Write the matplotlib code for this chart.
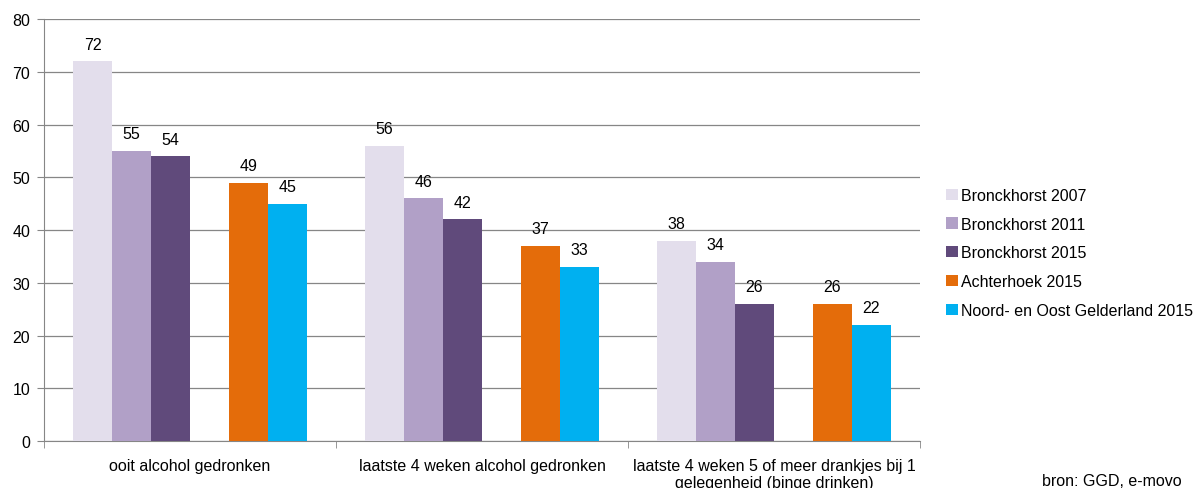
import numpy as np
import matplotlib
matplotlib.use('Agg')
import matplotlib.pyplot as plt

plt.rcParams['font.family'] = ['Liberation Sans', 'DejaVu Sans']

categories = ['ooit alcohol gedronken',
              'laatste 4 weken alcohol gedronken',
              'laatste 4 weken 5 of meer drankjes bij 1\ngelegenheid (binge drinken)']
series_names = ['Bronckhorst 2007', 'Bronckhorst 2011', 'Bronckhorst 2015',
                'Achterhoek 2015', 'Noord- en Oost Gelderland 2015']
bronck_2007 = [72, 56, 38]
bronck_2011 = [55, 46, 34]
bronck_2015 = [54, 42, 26]
achterhoek_2015 = [49, 37, 26]
nog_2015 = [45, 33, 22]
colors = ['#E3DEEC', '#B1A0C7', '#604A7B', '#E46C0A', '#00B0F0']

values = [bronck_2007, bronck_2011, bronck_2015, achterhoek_2015, nog_2015]
slots = [0, 1, 2, 4, 5]  # empty slot between the Bronckhorst bars and the regions
w = 1 / 7.5
fs = 11.5

fig = plt.figure(figsize=(11.99, 4.89), dpi=100)
ax = fig.add_axes([0.0367, 0.0961, 0.7306, 0.863])

x = np.arange(len(categories))
for vals, name, col, s in zip(values, series_names, colors, slots):
    bars = ax.bar(x + (s - 2.5) * w, vals, width=w, color=col, label=name, zorder=3)
    for b, v in zip(bars, vals):
        ax.text(b.get_x() + b.get_width() / 2, v + 1.8, str(v),
                ha='center', va='bottom', fontsize=fs, color='#000000')

ax.set_xlim(-0.5, len(categories) - 0.5)
ax.set_ylim(0, 80)
ax.set_yticks(range(0, 81, 10))
ax.yaxis.grid(True, color='#868686', linewidth=0.9, zorder=0)
ax.set_xticks(x)
ax.set_xticklabels(categories, fontsize=fs, linespacing=1.2)
ax.set_xticks(np.arange(-0.5, len(categories)), minor=True)
ax.tick_params(axis='x', which='major', length=0, pad=12)
ax.tick_params(axis='x', which='minor', length=5, color='#868686')
ax.tick_params(axis='y', length=5, color='#868686', labelsize=fs, pad=5)
for sp in ['top', 'right']:
    ax.spines[sp].set_visible(False)
for sp in ['left', 'bottom']:
    ax.spines[sp].set_color('#868686')

leg = fig.legend(loc='upper left', bbox_to_anchor=(0.784, 0.627), frameon=False,
                 fontsize=fs, handlelength=0.7, handleheight=0.7,
                 handletextpad=0.2, labelspacing=0.86, borderaxespad=0)

fig.text(0.869, 0.03, 'bron: GGD, e-movo', fontsize=fs, va='top', ha='left')

fig.savefig('out.png', dpi=100)
